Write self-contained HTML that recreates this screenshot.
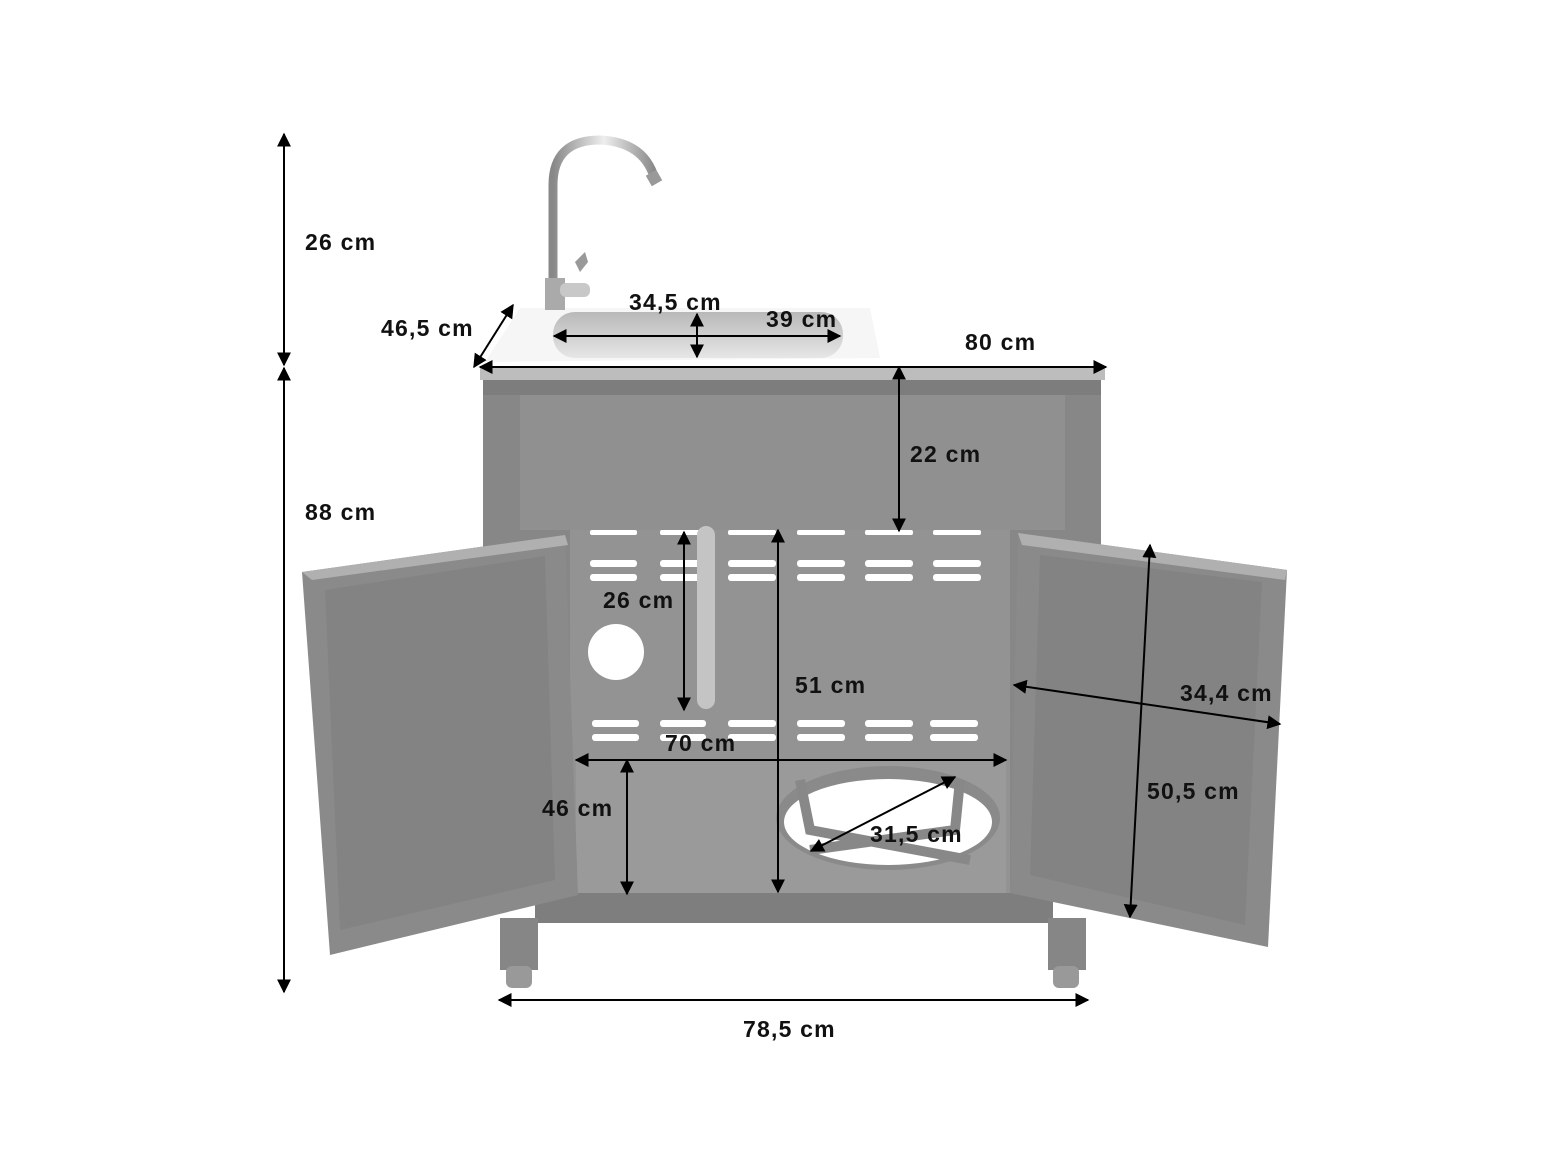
<!DOCTYPE html>
<html><head><meta charset="utf-8"><style>
html,body{margin:0;padding:0;background:#fff}
svg{display:block}
text{font-family:"Liberation Sans",sans-serif;font-weight:bold;font-size:23px;letter-spacing:1.2px;fill:#111}
</style></head><body>
<svg width="1565" height="1173" viewBox="0 0 1565 1173" xmlns="http://www.w3.org/2000/svg">
<defs>
<marker id="b" viewBox="0 0 10 10" refX="9" refY="5" markerWidth="14" markerHeight="14" orient="auto-start-reverse" markerUnits="userSpaceOnUse"><path d="M0,0L10,5L0,10z" fill="#000"/></marker>
<linearGradient id="sink" x1="0" y1="0" x2="0" y2="1"><stop offset="0" stop-color="#b8b8b8"/><stop offset="1" stop-color="#e6e6e6"/></linearGradient>
<linearGradient id="tap" x1="0" y1="0" x2="1" y2="0"><stop offset="0" stop-color="#888"/><stop offset=".5" stop-color="#eee"/><stop offset="1" stop-color="#888"/></linearGradient>
</defs>
<path d="M520,308 L870,308 L880,358 L485,362 Z" fill="#f6f6f6"/>
<rect x="553" y="312" width="290" height="46" rx="22" fill="url(#sink)"/>
<path d="M553,305 L553,185 Q553,140 600,140 Q645,142 655,180" fill="none" stroke="url(#tap)" stroke-width="9"/>
<rect x="648" y="172" width="12" height="12" fill="#999" transform="rotate(-30 654 178)"/>
<rect x="545" y="278" width="20" height="32" fill="#aaa"/>
<rect x="560" y="283" width="30" height="14" rx="6" fill="#c8c8c8"/>
<path d="M575,262 L585,252 L588,262 L580,272z" fill="#999"/>
<rect x="480" y="366" width="625" height="14" fill="#bdbdbd"/>
<rect x="483" y="380" width="618" height="515" fill="#878787"/>
<rect x="520" y="395" width="545" height="135" fill="#909090"/>
<rect x="483" y="380" width="618" height="15" fill="#7d7d7d"/>
<rect x="570" y="530" width="440" height="365" fill="#939393"/>
<rect x="576" y="760" width="430" height="133" fill="#9a9a9a"/>
<g fill="#fff">
<rect x="590" y="530" width="47" height="5" rx="2"/><rect x="660" y="530" width="46" height="5" rx="2"/><rect x="728" y="530" width="48" height="5" rx="2"/><rect x="797" y="530" width="48" height="5" rx="2"/><rect x="865" y="530" width="48" height="5" rx="2"/><rect x="933" y="530" width="48" height="5" rx="2"/>
<rect x="590" y="560" width="47" height="7" rx="3"/><rect x="660" y="560" width="46" height="7" rx="3"/><rect x="728" y="560" width="48" height="7" rx="3"/><rect x="797" y="560" width="48" height="7" rx="3"/><rect x="865" y="560" width="48" height="7" rx="3"/><rect x="933" y="560" width="48" height="7" rx="3"/>
<rect x="590" y="574" width="47" height="7" rx="3"/><rect x="660" y="574" width="46" height="7" rx="3"/><rect x="728" y="574" width="48" height="7" rx="3"/><rect x="797" y="574" width="48" height="7" rx="3"/><rect x="865" y="574" width="48" height="7" rx="3"/><rect x="933" y="574" width="48" height="7" rx="3"/>
<rect x="592" y="720" width="47" height="7" rx="3"/><rect x="660" y="720" width="46" height="7" rx="3"/><rect x="728" y="720" width="48" height="7" rx="3"/><rect x="797" y="720" width="48" height="7" rx="3"/><rect x="865" y="720" width="48" height="7" rx="3"/><rect x="930" y="720" width="48" height="7" rx="3"/>
<rect x="592" y="734" width="47" height="7" rx="3"/><rect x="660" y="734" width="46" height="7" rx="3"/><rect x="728" y="734" width="48" height="7" rx="3"/><rect x="797" y="734" width="48" height="7" rx="3"/><rect x="865" y="734" width="48" height="7" rx="3"/><rect x="930" y="734" width="48" height="7" rx="3"/>
<circle cx="616" cy="652" r="28"/>
</g>
<path d="M706,535 L706,700" stroke="#c4c4c4" stroke-width="18" stroke-linecap="round"/>
<ellipse cx="888" cy="818" rx="112" ry="52" fill="#8a8a8a"/>
<ellipse cx="888" cy="822" rx="104" ry="43" fill="#fff"/>
<path d="M800,780 L810,830 L970,860 M960,780 L955,830 L810,850" fill="none" stroke="#888" stroke-width="10"/>
<rect x="535" y="893" width="518" height="30" fill="#7e7e7e"/>
<rect x="500" y="918" width="38" height="52" fill="#868686"/>
<rect x="1048" y="918" width="38" height="52" fill="#868686"/>
<rect x="506" y="966" width="26" height="22" rx="6" fill="#999"/>
<rect x="1053" y="966" width="26" height="22" rx="6" fill="#999"/>
<polygon points="302,572 565,535 578,895 330,955" fill="#8a8a8a"/>
<polygon points="302,572 565,535 568,545 312,580" fill="#b0b0b0"/>
<polygon points="325,590 545,556 555,880 340,930" fill="#838383"/>
<polygon points="1018,533 1287,570 1268,947 1010,893" fill="#8a8a8a"/>
<polygon points="1018,533 1287,570 1285,580 1022,545" fill="#b0b0b0"/>
<polygon points="1040,555 1262,582 1245,925 1030,875" fill="#838383"/>
<g stroke="#000" stroke-width="2" fill="none">
<line x1="284" y1="134" x2="284" y2="365" marker-start="url(#b)" marker-end="url(#b)"/>
<line x1="284" y1="368" x2="284" y2="992" marker-start="url(#b)" marker-end="url(#b)"/>
<line x1="474" y1="367" x2="513" y2="305" marker-start="url(#b)" marker-end="url(#b)"/>
<line x1="697" y1="314" x2="697" y2="357" marker-start="url(#b)" marker-end="url(#b)"/>
<line x1="554" y1="336" x2="840" y2="336" marker-start="url(#b)" marker-end="url(#b)"/>
<line x1="480" y1="367" x2="1106" y2="367" marker-start="url(#b)" marker-end="url(#b)"/>
<line x1="899" y1="367" x2="899" y2="531" marker-start="url(#b)" marker-end="url(#b)"/>
<line x1="684" y1="532" x2="684" y2="710" marker-start="url(#b)" marker-end="url(#b)"/>
<line x1="778" y1="530" x2="778" y2="892" marker-start="url(#b)" marker-end="url(#b)"/>
<line x1="1014" y1="685" x2="1280" y2="724" marker-start="url(#b)" marker-end="url(#b)"/>
<line x1="1150" y1="545" x2="1130" y2="917" marker-start="url(#b)" marker-end="url(#b)"/>
<line x1="576" y1="760" x2="1006" y2="760" marker-start="url(#b)" marker-end="url(#b)"/>
<line x1="627" y1="760" x2="627" y2="894" marker-start="url(#b)" marker-end="url(#b)"/>
<line x1="811" y1="851" x2="955" y2="777" marker-start="url(#b)" marker-end="url(#b)"/>
<line x1="499" y1="1000" x2="1088" y2="1000" marker-start="url(#b)" marker-end="url(#b)"/>
</g>
<text x="305" y="250">26 cm</text>
<text x="305" y="520">88 cm</text>
<text x="381" y="336">46,5 cm</text>
<text x="629" y="310">34,5 cm</text>
<text x="766" y="327">39 cm</text>
<text x="965" y="350">80 cm</text>
<text x="910" y="462">22 cm</text>
<text x="603" y="608">26 cm</text>
<text x="795" y="693">51 cm</text>
<text x="1180" y="701">34,4 cm</text>
<text x="1147" y="799">50,5 cm</text>
<text x="665" y="751">70 cm</text>
<text x="542" y="816">46 cm</text>
<text x="870" y="842">31,5 cm</text>
<text x="743" y="1037">78,5 cm</text>
</svg>
</body></html>
